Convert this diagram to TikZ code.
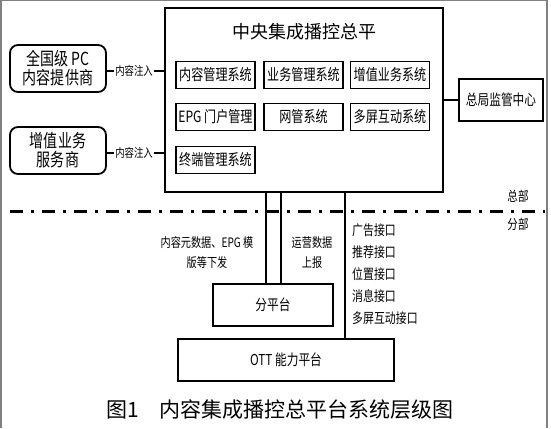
\documentclass[tikz,border=0pt]{standalone}
\usepackage{fontspec}
\newfontfamily\cjk{Noto Sans CJK SC}
\newfontfamily\cjknarrow[FakeStretch=0.78]{Noto Sans CJK SC}
\usetikzlibrary{positioning,calc}

\begin{document}
\begin{tikzpicture}[
  x=1pt, y=-1pt,
  every node/.style={font=\cjknarrow},
  sysbox/.style={draw, line width=1.6pt, minimum width=79pt, minimum height=27pt,
                 inner sep=0pt, font=\cjknarrow\fontsize{15.5}{17}\selectfont},
  srcbox/.style={draw, rounded corners=8pt, line width=1.8pt, minimum width=96pt,
                 minimum height=47pt, align=center, inner sep=0pt,
                 font=\cjknarrow\fontsize{18}{19}\selectfont},
  platbox/.style={draw, line width=1.8pt, minimum height=42pt, inner sep=0pt,
                  font=\cjknarrow\fontsize{15}{17}\selectfont},
  lbl/.style={font=\cjknarrow\fontsize{13}{20}\selectfont, inner sep=1pt, align=center},
  link/.style={line width=1.6pt},
]
\useasboundingbox (0,0) rectangle (551,428);
\draw[gray, line width=1.5pt] (0.75,428) |- (547,0.75) -- (547,428);

% central platform
\node[draw, line width=1.8pt, minimum width=278pt, minimum height=184pt] (main) at (304,100) {};
\node[font=\cjk\fontsize{18}{20}\selectfont] (title) at (304,32) {中央集成播控总平};
\node[sysbox] (cms) at (215.5,75) {内容管理系统};
\node[sysbox] (bms) at (303.5,75) {业务管理系统};
\node[sysbox] (vas) at (390,75) {增值业务系统};
\node[sysbox] (epg) at (215.5,117) {EPG 门户管理};
\node[sysbox] (nms) at (303.5,117) {网管系统};
\node[sysbox] (msi) at (390,117) {多屏互动系统};
\node[sysbox] (tms) at (215.5,160) {终端管理系统};

% providers
\node[srcbox] (pc) at (58,68.5) {全国级 PC\\内容提供商};
\node[srcbox] (sp) at (58,150.5) {增值业务\\服务商};
\node[lbl, font=\cjknarrow\fontsize{12}{14}\selectfont] (inj1) at (134,71) {内容注入};
\node[lbl, font=\cjknarrow\fontsize{12}{14}\selectfont] (inj2) at (134,153) {内容注入};
\draw[link] (inj1.west -| pc.east) -- (inj1.west);
\draw[link] (inj1.east) -- (inj1.east -| main.west);
\draw[link] (inj2.west -| sp.east) -- (inj2.west);
\draw[link] (inj2.east) -- (inj2.east -| main.west);

% supervision
\node[platbox, minimum width=84pt] (sup) at (501,100) {总局监管中心};
\draw[link] (main.east) -- (sup.west);

% HQ / branch divide
\draw[line width=3pt, dash pattern=on 13pt off 8pt on 3pt off 8pt] (10,211) -- (545,211);
\node[font=\cjknarrow\fontsize{13.5}{15}\selectfont] (hq) at (518,196) {总部};
\node[font=\cjknarrow\fontsize{13.5}{15}\selectfont] (br) at (518,224) {分部};

% branch platforms
\node[platbox, minimum width=120pt] (sub) at (273,305) {分平台};
\node[platbox, minimum width=216pt] (ott) at (286,360) {OTT 能力平台};

\path (main.south west) ++(102,0) coordinate (d1);
\path (main.south west) ++(117,0) coordinate (d2);
\path (main.south west) ++(181,0) coordinate (d3);
\draw[link] (d1) -- (d1 |- sub.north);
\draw[link] (d2) -- (d2 |- sub.north);
\draw[link] (d3) -- (d3 |- ott.north);

\node[lbl] (down) at (207,253) {内容元数据、EPG 模\\版等下发};
\node[lbl] (up) at (312,253) {运营数据\\上报};
\node[font=\cjknarrow\fontsize{14}{21.8}\selectfont, align=left, anchor=north west,
      inner sep=0pt] (ifs) at (352,224) {广告接口\\推荐接口\\位置接口\\消息接口\\多屏互动接口};

% caption
\node[font=\cjk\fontsize{21}{24}\selectfont] (cap) at (280,410) {图1\quad 内容集成播控总平台系统层级图};
\end{tikzpicture}
\end{document}
